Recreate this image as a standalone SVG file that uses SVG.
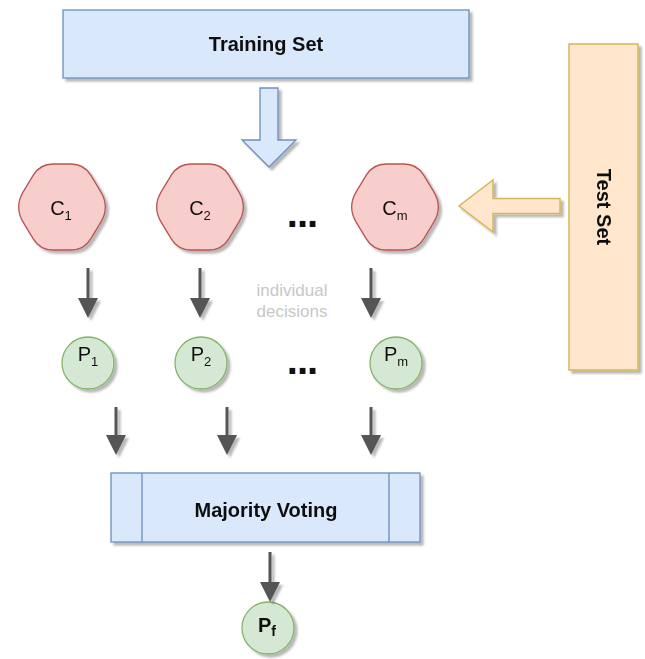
<svg xmlns="http://www.w3.org/2000/svg" width="645" height="659" viewBox="0 0 645 659">
<defs>
<style>
.lbl{font-family:"Liberation Sans",Arial,Helvetica,sans-serif;fill:#111;text-anchor:middle}
.b{font-weight:bold}
.blue{fill:#dae8fc;stroke:#6c8ebf;stroke-width:1.3}
.red{fill:#f8cecc;stroke:#b85450;stroke-width:1.3}
.green{fill:#d5e8d4;stroke:#82b366;stroke-width:1.3}
.orange{fill:#ffe6cc;stroke:#d6b656;stroke-width:1.5}
.conn{stroke:#555;stroke-width:3;fill:none}
.dots{font-family:"Liberation Sans",Arial,sans-serif;font-weight:bold;font-size:40px;letter-spacing:-1px;fill:#111;text-anchor:middle}
</style>
<filter id="sh" x="-20%" y="-20%" width="140%" height="140%">
<feDropShadow dx="3" dy="3" stdDeviation="1.2" flood-color="#000" flood-opacity="0.28"/>
</filter>
<path id="hex" d="M -38.69,15.4 Q -48,0 -38.69,-15.4 L -28.72,-31.87 Q -22,-43 -9,-43 L 9,-43 Q 22,-43 28.72,-31.87 L 38.69,-15.4 Q 48,0 38.69,15.4 L 28.72,31.87 Q 22,43 9,43 L -9,43 Q -22,43 -28.72,31.87 Z"/>
<marker id="ah" viewBox="0 0 20 20" refX="10" refY="10" markerWidth="20" markerHeight="20" markerUnits="userSpaceOnUse" orient="auto">
<path d="M0,0 L20,10 L0,20 Z" fill="#555"/>
</marker>
</defs>
<rect width="645" height="659" fill="#fff"/>

<g id="training-set" filter="url(#sh)">
<rect class="blue" x="63" y="10" width="406" height="68"/>
<text class="lbl b" x="266" y="51" font-size="20">Training Set</text>
</g>

<g id="test-set" filter="url(#sh)">
<rect class="orange" x="569" y="44" width="69" height="326"/>
<text class="lbl b" font-size="20" transform="translate(603.5,207) rotate(90)" x="0" y="7">Test Set</text>
</g>

<g id="training-arrow" filter="url(#sh)">
<path class="blue" d="M260,88 L278,88 L278,140 L296,140 L269,167 L242,140 L260,140 Z"/>
</g>

<g id="test-arrow" filter="url(#sh)">
<path class="orange" d="M560,198.5 L560,213.5 L493,213.5 L493,232 L459,206 L493,180 L493,198.5 Z"/>
</g>

<g id="c1" filter="url(#sh)">
<use href="#hex" class="red" transform="translate(62,207)"/>
<text class="lbl" x="61" y="215" font-size="20">C<tspan font-size="13" dy="5">1</tspan></text>
</g>
<g id="c2" filter="url(#sh)">
<use href="#hex" class="red" transform="translate(200,207)"/>
<text class="lbl" x="200" y="215" font-size="20">C<tspan font-size="13" dy="5">2</tspan></text>
</g>
<g id="cm" filter="url(#sh)">
<use href="#hex" class="red" transform="translate(395,207)"/>
<text class="lbl" x="395" y="215" font-size="20">C<tspan font-size="13" dy="5">m</tspan></text>
</g>
<text id="c-dots" class="dots" x="302" y="227">...</text>

<text id="note" font-family="'Liberation Sans',Arial,sans-serif" font-size="17" fill="#c8c8c8" text-anchor="middle"><tspan x="292" y="296">individual</tspan><tspan x="292" y="317">decisions</tspan></text>

<g id="p1" filter="url(#sh)">
<circle class="green" cx="88" cy="363" r="26"/>
<text class="lbl" x="88" y="361" font-size="20">P<tspan font-size="13" dy="5">1</tspan></text>
</g>
<g id="p2" filter="url(#sh)">
<circle class="green" cx="201" cy="363" r="26"/>
<text class="lbl" x="201" y="361" font-size="20">P<tspan font-size="13" dy="5">2</tspan></text>
</g>
<g id="pm" filter="url(#sh)">
<circle class="green" cx="396" cy="363" r="26"/>
<text class="lbl" x="396" y="361" font-size="20">P<tspan font-size="13" dy="5">m</tspan></text>
</g>
<text id="p-dots" class="dots" x="302" y="374">...</text>

<g id="majority-voting" filter="url(#sh)">
<rect class="blue" x="111" y="473" width="309" height="69"/>
<line x1="142" y1="473" x2="142" y2="542" stroke="#6c8ebf" stroke-width="1.3"/>
<line x1="389" y1="473" x2="389" y2="542" stroke="#6c8ebf" stroke-width="1.3"/>
<text class="lbl b" x="266" y="517" font-size="20">Majority Voting</text>
</g>

<g id="pf" filter="url(#sh)">
<circle class="green" cx="268" cy="628" r="26"/>
<text class="lbl b" x="267" y="632" font-size="20">P<tspan font-size="14" dy="4">f</tspan></text>
</g>

<g id="connectors" filter="url(#sh)">
<line class="conn" x1="88" y1="268" x2="88" y2="308" marker-end="url(#ah)"/>
<line class="conn" x1="200" y1="268" x2="200" y2="308" marker-end="url(#ah)"/>
<line class="conn" x1="371" y1="268" x2="371" y2="308" marker-end="url(#ah)"/>
<line class="conn" x1="116" y1="407" x2="116" y2="445" marker-end="url(#ah)"/>
<line class="conn" x1="227" y1="407" x2="227" y2="445" marker-end="url(#ah)"/>
<line class="conn" x1="371" y1="407" x2="371" y2="445" marker-end="url(#ah)"/>
<line class="conn" x1="270" y1="552" x2="270" y2="592" marker-end="url(#ah)"/>
</g>
</svg>
